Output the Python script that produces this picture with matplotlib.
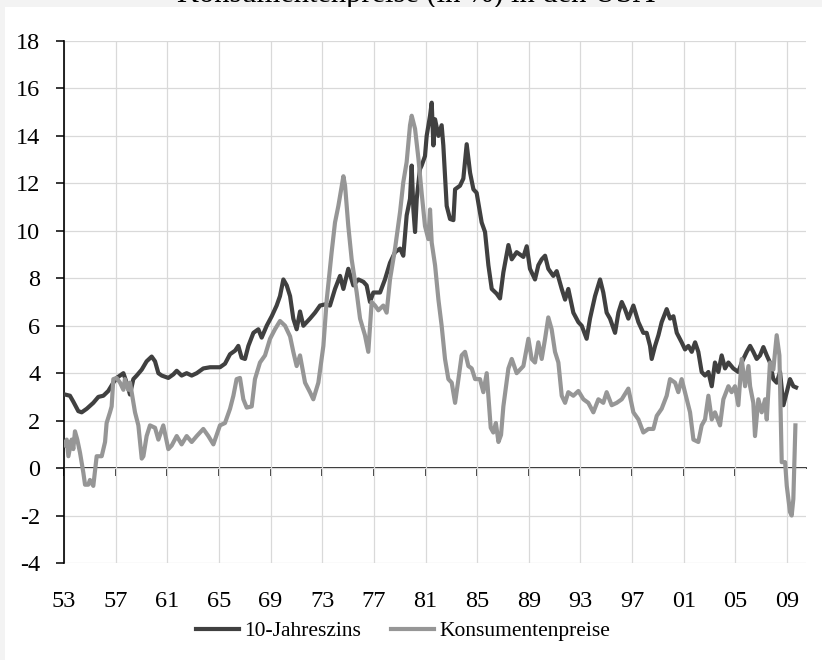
import matplotlib.pyplot as plt
from matplotlib.patches import Rectangle

# 10-Jahreszins (dark line)
zins_years = [1953.08, 1953.46, 1953.72, 1954.11, 1954.37, 1954.76, 1955.27, 1955.66, 1956.05, 1956.43,
              1956.82, 1957.08, 1957.47, 1957.60, 1957.85, 1958.11, 1958.37, 1958.63, 1959.02, 1959.40,
              1959.79, 1960.05, 1960.31, 1960.57, 1961.08, 1961.47, 1961.73, 1962.11, 1962.50, 1962.89,
              1963.28, 1963.79, 1964.31, 1965.08, 1965.47, 1965.86, 1966.25, 1966.50, 1966.76, 1967.02,
              1967.28, 1967.67, 1968.05, 1968.31, 1968.70, 1969.09, 1969.47, 1969.73, 1969.99, 1970.25,
              1970.51, 1970.76, 1971.02, 1971.28, 1971.54, 1972.05, 1972.44, 1972.83, 1973.22, 1973.60,
              1973.99, 1974.38, 1974.64, 1975.02, 1975.41, 1975.80, 1976.19, 1976.44, 1976.70, 1976.96,
              1977.48, 1977.86, 1978.25, 1978.64, 1979.03, 1979.28, 1979.54, 1979.80, 1979.93, 1980.06,
              1980.19, 1980.32, 1980.57, 1980.70, 1980.96, 1981.09, 1981.35, 1981.48, 1981.61, 1981.74,
              1982.00, 1982.25, 1982.38, 1982.64, 1982.90, 1983.16, 1983.29, 1983.67, 1983.93, 1984.19,
              1984.45, 1984.71, 1984.96, 1985.35, 1985.61, 1985.87, 1986.13, 1986.51, 1986.77, 1987.03,
              1987.42, 1987.68, 1988.06, 1988.32, 1988.58, 1988.84, 1989.09, 1989.48, 1989.74, 1990.00,
              1990.26, 1990.51, 1990.90, 1991.16, 1991.55, 1991.81, 1992.06, 1992.45, 1992.84, 1993.10,
              1993.48, 1993.74, 1994.13, 1994.52, 1994.77, 1995.03, 1995.29, 1995.68, 1995.94, 1996.20,
              1996.45, 1996.71, 1997.10, 1997.49, 1997.87, 1998.13, 1998.39, 1998.52, 1998.78, 1999.04,
              1999.29, 1999.68, 1999.94, 2000.20, 2000.46, 2000.84, 2001.10, 2001.36, 2001.62, 2001.88,
              2002.13, 2002.39, 2002.65, 2002.91, 2003.17, 2003.42, 2003.68, 2003.94, 2004.20, 2004.46,
              2004.84, 2005.23, 2005.49, 2005.88, 2006.14, 2006.39, 2006.65, 2006.91, 2007.17, 2007.43,
              2007.68, 2007.94, 2008.20, 2008.46, 2008.72, 2008.98, 2009.23, 2009.49, 2009.70]
zins_values = [3.1, 3.05, 2.8, 2.4, 2.35, 2.5, 2.75, 3.0, 3.05, 3.25,
               3.6, 3.8, 3.95, 4.0, 3.6, 3.1, 3.75, 3.9, 4.15, 4.5,
               4.7, 4.5, 4.0, 3.9, 3.8, 3.95, 4.1, 3.9, 4.0, 3.9,
               4.0, 4.2, 4.25, 4.25, 4.4, 4.8, 4.95, 5.15, 4.65, 4.6,
               5.15, 5.7, 5.85, 5.5, 6.0, 6.4, 6.85, 7.25, 7.95, 7.7,
               7.25, 6.3, 5.85, 6.6, 6.0, 6.3, 6.55, 6.85, 6.9, 6.85,
               7.55, 8.1, 7.55, 8.4, 7.7, 7.95, 7.85, 7.7, 7.0, 7.4,
               7.4, 7.95, 8.65, 9.1, 9.25, 8.95, 10.65, 11.35, 12.75, 10.9,
               9.95, 11.35, 12.6, 12.75, 13.15, 14.0, 14.85, 15.4, 13.6, 14.7,
               14.0, 14.45, 13.6, 11.05, 10.5, 10.45, 11.75, 11.9, 12.2, 13.65,
               12.45, 11.75, 11.6, 10.35, 9.95, 8.55, 7.55, 7.35, 7.15, 8.25,
               9.4, 8.8, 9.1, 9.0, 8.9, 9.35, 8.4, 7.95, 8.55, 8.8,
               8.95, 8.4, 8.1, 8.3, 7.55, 7.1, 7.55, 6.55, 6.15, 6.0,
               5.45, 6.3, 7.25, 7.95, 7.4, 6.55, 6.3, 5.7, 6.55, 7.0,
               6.7, 6.3, 6.85, 6.15, 5.7, 5.7, 5.15, 4.6, 5.15, 5.6,
               6.15, 6.7, 6.3, 6.4, 5.7, 5.3, 5.0, 5.15, 4.9, 5.3,
               4.9, 4.05, 3.9, 4.05, 3.45, 4.45, 4.05, 4.75, 4.2, 4.45,
               4.2, 4.05, 4.45, 4.9, 5.15, 4.9, 4.6, 4.75, 5.1, 4.75,
               4.45, 3.75, 3.6, 4.05, 2.65, 3.2, 3.75, 3.45, 3.4]

# Konsumentenpreise (grey line)
cpi_years = [1953.08, 1953.21, 1953.34, 1953.59, 1953.72, 1953.85, 1954.03, 1954.24, 1954.50, 1954.63,
             1954.88, 1955.01, 1955.27, 1955.53, 1955.92, 1956.18, 1956.30, 1956.56, 1956.69, 1956.82,
             1957.08, 1957.34, 1957.60, 1957.72, 1957.98, 1958.11, 1958.24, 1958.50, 1958.76, 1959.02,
             1959.15, 1959.40, 1959.66, 1960.05, 1960.31, 1960.69, 1961.08, 1961.34, 1961.73, 1962.11,
             1962.50, 1962.89, 1963.28, 1963.79, 1964.18, 1964.57, 1965.08, 1965.47, 1965.86, 1966.12,
             1966.37, 1966.63, 1966.89, 1967.15, 1967.54, 1967.79, 1968.18, 1968.57, 1968.96, 1969.34,
             1969.73, 1970.12, 1970.51, 1970.76, 1971.02, 1971.28, 1971.67, 1972.05, 1972.31, 1972.70,
             1973.09, 1973.35, 1973.73, 1973.99, 1974.25, 1974.51, 1974.64, 1974.77, 1975.02, 1975.28,
             1975.67, 1975.93, 1976.31, 1976.57, 1976.83, 1977.09, 1977.35, 1977.73, 1977.99, 1978.25,
             1978.64, 1979.03, 1979.28, 1979.54, 1979.80, 1979.93, 1980.19, 1980.45, 1980.70, 1980.96,
             1981.22, 1981.35, 1981.48, 1981.74, 1982.00, 1982.25, 1982.51, 1982.77, 1983.03, 1983.29,
             1983.55, 1983.80, 1984.06, 1984.32, 1984.58, 1984.84, 1985.22, 1985.48, 1985.74, 1986.05,
             1986.25, 1986.45, 1986.65, 1986.85, 1987.03, 1987.42, 1987.68, 1988.06, 1988.58, 1988.97,
             1989.22, 1989.48, 1989.74, 1990.00, 1990.26, 1990.51, 1990.77, 1991.03, 1991.29, 1991.55,
             1991.81, 1992.06, 1992.45, 1992.84, 1993.23, 1993.61, 1994.00, 1994.39, 1994.77, 1995.03,
             1995.42, 1995.81, 1996.20, 1996.71, 1997.10, 1997.49, 1997.87, 1998.26, 1998.65, 1998.91,
             1999.29, 1999.68, 1999.94, 2000.33, 2000.58, 2000.84, 2001.23, 2001.49, 2001.75, 2002.13,
             2002.39, 2002.65, 2002.91, 2003.17, 2003.42, 2003.81, 2004.07, 2004.46, 2004.71, 2004.97,
             2005.23, 2005.49, 2005.75, 2006.01, 2006.14, 2006.39, 2006.52, 2006.78, 2007.04, 2007.30,
             2007.43, 2007.68, 2007.94, 2008.20, 2008.41, 2008.59, 2008.85, 2008.98, 2009.23, 2009.36,
             2009.49, 2009.65]
cpi_values = [0.95, 1.2, 0.5, 1.2, 0.8, 1.55, 1.2, 0.65, -0.2, -0.7,
              -0.7, -0.5, -0.75, 0.5, 0.5, 1.1, 1.9, 2.35, 2.6, 3.75,
              3.8, 3.6, 3.3, 3.75, 3.3, 3.6, 3.2, 2.35, 1.8, 0.4,
              0.5, 1.35, 1.8, 1.7, 1.2, 1.8, 0.8, 0.95, 1.35, 1.0,
              1.35, 1.1, 1.35, 1.65, 1.35, 1.0, 1.8, 1.9, 2.5, 3.05,
              3.75, 3.8, 2.9, 2.55, 2.6, 3.75, 4.45, 4.75, 5.45, 5.85,
              6.2, 6.0, 5.55, 4.9, 4.3, 4.75, 3.6, 3.2, 2.9, 3.6,
              5.15, 7.1, 9.1, 10.35, 11.05, 11.9, 12.3, 11.9, 10.2, 8.8,
              7.4, 6.3, 5.6, 4.9, 7.0, 6.85, 6.65, 6.85, 6.55, 7.95,
              9.25, 10.8, 12.05, 12.9, 14.45, 14.85, 14.3, 13.05, 11.6, 10.2,
              9.65, 10.9, 9.5, 8.55, 7.1, 6.0, 4.6, 3.75, 3.6, 2.75,
              3.75, 4.75, 4.9, 4.3, 4.2, 3.75, 3.75, 3.2, 4.0, 1.7,
              1.5, 1.9, 1.1, 1.4, 2.6, 4.2, 4.6, 4.0, 4.3, 5.45,
              4.6, 4.45, 5.3, 4.6, 5.45, 6.35, 5.85, 4.9, 4.45, 3.05,
              2.75, 3.2, 3.05, 3.25, 2.9, 2.75, 2.35, 2.9, 2.75, 3.2,
              2.65, 2.75, 2.9, 3.35, 2.35, 2.05, 1.5, 1.65, 1.65, 2.2,
              2.5, 3.05, 3.75, 3.6, 3.2, 3.75, 2.9, 2.35, 1.2, 1.1,
              1.8, 2.05, 3.05, 2.05, 2.35, 1.8, 2.9, 3.45, 3.2, 3.45,
              2.65, 4.6, 3.45, 4.3, 3.45, 2.75, 1.35, 2.9, 2.35, 2.9,
              2.05, 4.45, 4.15, 5.6, 4.75, 0.25, 0.25, -0.75, -1.85, -2.0,
              -1.3, 1.8]

tick_years = list(range(1953, 2010, 4))
tick_labels = [f"{y % 100:02d}" for y in tick_years]
y_ticks = list(range(-4, 19, 2))

title = "Konsumentenpreise (in %) in den USA"

plt.rcParams['font.family'] = ['Liberation Serif', 'DejaVu Serif']

W, H = 822, 660
fig = plt.figure(figsize=(W / 100, H / 100), dpi=100, facecolor='#f3f3f3')
# white panel, leaving a thin grey strip at top and left
fig.patches.append(Rectangle((5 / W, 0), 1, (H - 7) / H, transform=fig.transFigure,
                             facecolor='white', edgecolor='none', zorder=-1))
fig.text(416 / W, 1 - 2 / H, title, ha='center', va='baseline', fontsize=22, zorder=-2)

ax = fig.add_axes([64 / W, 1 - 563 / H, 742 / W, 522 / H])
ax.plot(zins_years, zins_values, color='#404040', lw=3.0, label='10-Jahreszins', zorder=3)
ax.plot(cpi_years, cpi_values, color='#969696', lw=3.0, label='Konsumentenpreise', zorder=4)

ax.set_xlim(1953, 2010.47)
ax.set_ylim(-4, 18)
ax.set_xticks(tick_years)
ax.set_xticklabels(tick_labels, fontsize=17.5)
ax.set_yticks(y_ticks)
ax.set_yticklabels([str(v) for v in y_ticks], fontsize=17.5)
ax.tick_params(axis='x', length=0, pad=20)
ax.tick_params(axis='y', length=6, width=1.1, direction='out', pad=11)
for s in ['top', 'right', 'bottom']:
    ax.spines[s].set_visible(False)
ax.spines['left'].set_linewidth(1.2)
ax.grid(True, color='#d9d9d9', lw=0.9)
ax.set_axisbelow(True)

# x axis line crossing at zero with tick marks
sec = ax.secondary_xaxis(4 / 22)
sec.set_xticks(tick_years)
sec.set_xticklabels([''] * len(tick_years))
sec.tick_params(length=6, width=1.1, direction='out')
sec.spines['bottom'].set_linewidth(1.2)

handles, labels = ax.get_legend_handles_labels()
fig.legend(handles, labels, loc='center', bbox_to_anchor=(403 / W, 1 - 631 / H), ncol=2,
           frameon=False, fontsize=15.5, handlelength=2.0, handletextpad=0.25, columnspacing=1.4)

fig.savefig('out.png', dpi=100, facecolor=fig.get_facecolor())
